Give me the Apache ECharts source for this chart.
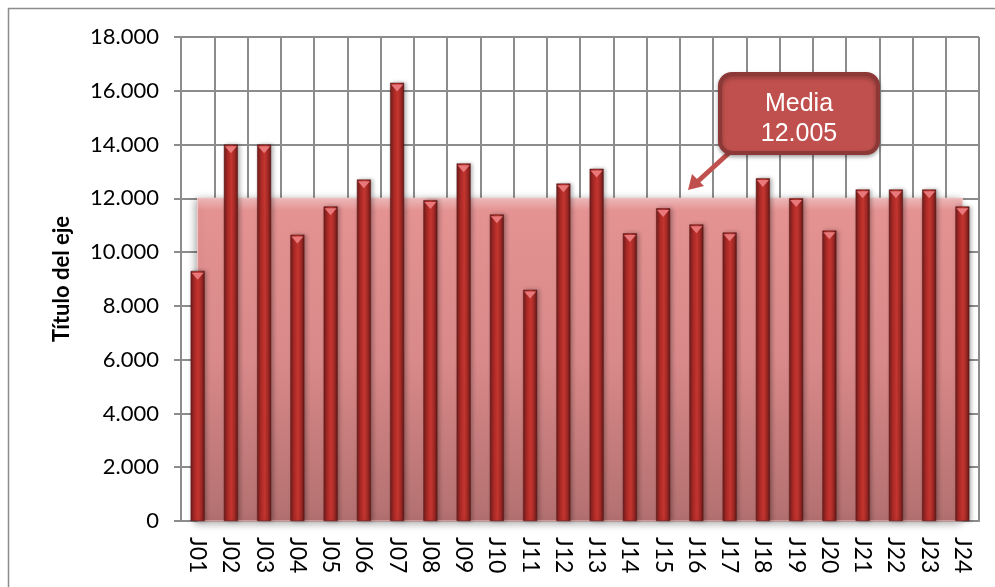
<!DOCTYPE html>
<html>
<head>
<meta charset="utf-8">
<script src="https://cdn.jsdelivr.net/npm/echarts@6/dist/echarts.min.js"></script>
<style>
  html, body { margin: 0; padding: 0; background: #fff; }
  #chart { width: 995px; height: 587px; }
</style>
</head>
<body>
<div id="chart"></div>
<script>
// datos
const categorias = ['J01', 'J02', 'J03', 'J04', 'J05', 'J06', 'J07', 'J08', 'J09', 'J10', 'J11', 'J12',
  'J13', 'J14', 'J15', 'J16', 'J17', 'J18', 'J19', 'J20', 'J21', 'J22', 'J23', 'J24']
const valores = [9300, 14000, 14000, 10650, 11700, 12700, 16300, 11930, 13300, 11400, 8600, 12550,
  13100, 10700, 11630, 11030, 10730, 12750, 12000, 10800, 12330, 12330, 12330, 11700]
const media = 12005
const tituloEje = 'Título del eje'

const fmt = v => v === 0 ? '0' : v.toLocaleString('de-DE')

const chart = echarts.init(document.getElementById('chart'))

const barColor = new echarts.graphic.LinearGradient(0, 0, 1, 0, [
  { offset: 0, color: '#6e1c1b' },
  { offset: 0.3, color: '#b02b28' },
  { offset: 0.55, color: '#c4352f' },
  { offset: 0.8, color: '#9a2724' },
  { offset: 1, color: '#5e1716' }
])

chart.setOption({
  animation: false,
  grid: { left: 181, right: 16, top: 37, bottom: 66 },
  xAxis: {
    type: 'category',
    data: categorias,
    boundaryGap: true,
    axisLine: { lineStyle: { color: '#8c8c8c', width: 2 } },
    axisTick: { show: false },
    axisLabel: {
      rotate: -90,
      color: '#000',
      fontFamily: 'Lato',
      fontSize: 23,
      margin: 16,
      interval: 0
    },
    splitLine: { show: true, interval: 0, lineStyle: { color: '#8c8c8c', width: 2 } }
  },
  yAxis: {
    type: 'value',
    min: 0,
    max: 18000,
    interval: 2000,
    name: tituloEje,
    nameLocation: 'middle',
    nameGap: 108,
    nameRotate: 90,
    nameTextStyle: { fontFamily: 'Lato', fontWeight: 'bold', fontSize: 22, color: '#000' },
    axisLine: { show: true, lineStyle: { color: '#8c8c8c', width: 2 } },
    axisTick: { show: true, length: 7, lineStyle: { color: '#8c8c8c', width: 2 } },
    axisLabel: {
      color: '#000',
      fontFamily: 'Lato',
      fontSize: 22,
      margin: 22,
      formatter: fmt
    },
    splitLine: { show: true, lineStyle: { color: '#8c8c8c', width: 2 } }
  },
  series: [
    {
      name: 'Media',
      type: 'line',
      data: [],
      z: 1,
      markArea: {
        silent: true,
        itemStyle: {
          color: new echarts.graphic.LinearGradient(0, 0, 0, 1, [
            { offset: 0, color: '#f6c0c0' },
            { offset: 0.04, color: '#e49292' },
            { offset: 0.5, color: '#d98989' },
            { offset: 1, color: '#b37070' }
          ]),
          borderColor: '#f7c9c9',
          borderWidth: 1,
          shadowColor: 'rgba(0,0,0,0.35)',
          shadowBlur: 8,
          shadowOffsetX: -2,
          shadowOffsetY: 2
        },
        data: [[{ xAxis: categorias[0], yAxis: 0 }, { xAxis: categorias[categorias.length - 1], yAxis: media }]]
      }
    },
    {
      name: 'Valor',
      type: 'bar',
      data: valores,
      z: 3,
      barWidth: 14,
      itemStyle: {
        color: barColor,
        borderColor: '#5a1514',
        borderWidth: 0.5,
        shadowColor: 'rgba(0,0,0,0.3)',
        shadowBlur: 4,
        shadowOffsetX: 2
      }
    },
    {
      name: 'Bisel',
      type: 'pictorialBar',
      data: valores,
      z: 4,
      silent: true,
      symbol: 'path://M0,0 L10,0 L5,6 Z',
      symbolSize: [12, 7],
      symbolPosition: 'end',
      symbolOffset: [0, '25%'],
      itemStyle: { color: '#e8787a' }
    }
  ],
  graphic: [
    {
      type: 'rect',
      shape: { x: 8.5, y: 8.5, width: 1000, height: 600 },
      style: { fill: 'none', stroke: '#8c8c8c', lineWidth: 1.5 },
      z: -1
    },
    {
      type: 'line',
      shape: { x1: 730, y1: 152, x2: 696, y2: 183 },
      style: { stroke: '#c0504d', lineWidth: 5 },
      z: 10
    },
    {
      type: 'polygon',
      shape: { points: [[688, 190], [692, 174], [704, 186]] },
      style: { fill: '#c0504d' },
      z: 10
    },
    {
      type: 'rect',
      shape: { x: 720, y: 74, width: 158, height: 79, r: 12 },
      style: {
        fill: '#c0504d',
        stroke: '#8c3836',
        lineWidth: 4,
        shadowColor: 'rgba(0,0,0,0.3)',
        shadowBlur: 4,
        shadowOffsetY: 2
      },
      z: 11
    },
    {
      type: 'text',
      x: 799,
      y: 119,
      style: {
        text: 'Media\n' + fmt(media),
        fill: '#fff',
        font: '25px "Liberation Sans", Arial',
        align: 'center',
        verticalAlign: 'middle',
        lineHeight: 30
      },
      z: 12
    }
  ]
})
</script>
</body>
</html>
